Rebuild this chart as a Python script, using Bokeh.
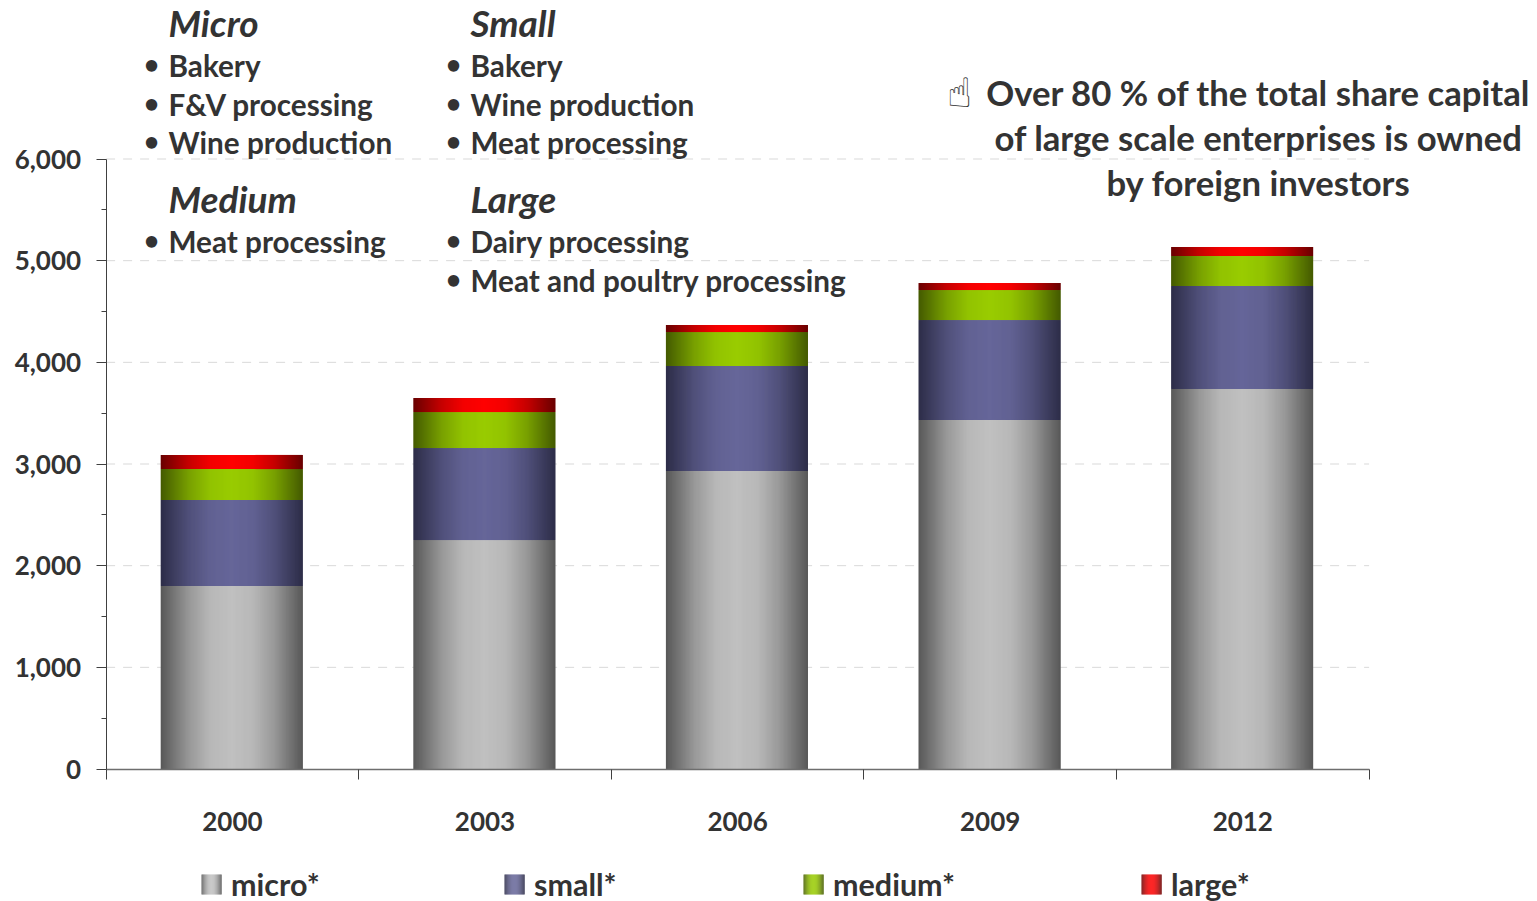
from bokeh.embed import file_html
from bokeh.models import (BoxAnnotation, ColumnDataSource, FixedTicker, Label,
                          NumeralTickFormatter, Range1d)
from bokeh.plotting import figure
from bokeh.resources import INLINE
import numpy as np

# Enterprise counts by size class
years = ["2000", "2003", "2006", "2009", "2012"]
micro = [1800, 2252, 2931, 3433, 3738]
small = [846, 905, 1033, 983, 1013]
medium = [304, 354, 334, 295, 295]
large = [139, 138, 69, 69, 88]

series_names = ["micro*", "small*", "medium*", "large*"]
centre_colors = [(192, 192, 192), (102, 102, 153), (153, 204, 0), (255, 0, 0)]
edge_colors = [(88, 88, 88), (45, 45, 72), (68, 90, 0), (105, 0, 0)]

y_ticks = [0, 1000, 2000, 3000, 4000, 5000, 6000]
y_minor = [500, 1500, 2500, 3500, 4500, 5500]

TEXT = "#333333"
FONT = "Lato"
W, H = 1537, 901

# Pixel geometry of the plotting area inside the page
AREA_LEFT, AREA_RIGHT, AREA_TOP, AREA_BOTTOM = 105.6, 1368.6, 158.5, 768.5
PX_X = (AREA_RIGHT - AREA_LEFT) / len(years)
PX_Y = (AREA_BOTTOM - AREA_TOP) / y_ticks[-1]
BAR_WIDTH = 142 / PX_X
BAR_SHIFT = -0.7 / PX_X
N_STRIPS = 142


def shade(centre, edge, t):
    """Colour across a bar: t runs 0..1 from left edge to right edge."""
    d = abs(t - 0.5) * 2
    a = np.interp(d, [0, 0.3, 0.6, 1.0], [1.0, 0.92, 0.62, 0.0])
    return "#%02x%02x%02x" % tuple(int(round(e + (c - e) * a)) for c, e in zip(centre, edge))


# The frame fills the page, so the ranges extend past the axes on every side
p = figure(width=W, height=H, output_backend="svg", toolbar_location=None,
           x_range=Range1d(-AREA_LEFT / PX_X, (W - AREA_LEFT) / PX_X),
           y_range=Range1d((AREA_BOTTOM - H) / PX_Y, AREA_BOTTOM / PX_Y),
           min_border=0)
p.outline_line_color = None
p.background_fill_color = "white"

# Dashed reference lines stop at the ends of the category axis
p.xgrid.visible = False
p.ygrid.visible = False
p.segment(x0=[0] * 6, x1=[len(years)] * 6, y0=y_ticks[1:], y1=y_ticks[1:],
          line_color="#d9d9d9", line_width=1, line_dash="9 8")

# Stacked columns, each drawn as narrow overlapping strips to give the cylinder shading
stack = [micro, small, medium, large]
lefts, rights, bottoms, tops, colors = [], [], [], [], []
base = np.zeros(len(years))
step = BAR_WIDTH / N_STRIPS
for values, centre, edge in zip(stack, centre_colors, edge_colors):
    top = base + np.array(values)
    for k in range(N_STRIPS):
        col = shade(centre, edge, (k + 0.5) / N_STRIPS)
        for i in range(len(years)):
            x0 = i + 0.5 - BAR_WIDTH / 2 + BAR_SHIFT
            lefts.append(x0 + k * step)
            rights.append(x0 + min(k + 2, N_STRIPS) * step)
            bottoms.append(base[i])
            tops.append(top[i])
            colors.append(col)
    base = top

src = ColumnDataSource(dict(left=lefts, right=rights, bottom=bottoms, top=tops, color=colors))
p.quad(left="left", right="right", bottom="bottom", top="top",
       fill_color="color", line_color=None, source=src)

# Axes sit at the data origin
xa = p.xaxis[0]
xa.fixed_location = 0
xa.bounds = (0, len(years))
xa.ticker = FixedTicker(ticks=[i + 0.5 for i in range(len(years))],
                        minor_ticks=list(range(len(years) + 1)))
xa.major_label_overrides = {i + 0.5: y for i, y in enumerate(years)}
xa.major_tick_line_color = None
xa.minor_tick_in = 0
xa.minor_tick_out = 10
xa.minor_tick_line_color = "#404040"
xa.axis_line_color = "#6e6e6e"
xa.axis_line_width = 1.5
xa.major_label_standoff = 33
xa.major_label_text_font = FONT
xa.major_label_text_font_style = "bold"
xa.major_label_text_font_size = "26px"
xa.major_label_text_color = TEXT

ya = p.yaxis[0]
ya.fixed_location = 0
ya.bounds = (0, y_ticks[-1])
ya.ticker = FixedTicker(ticks=y_ticks, minor_ticks=y_minor)
ya.formatter = NumeralTickFormatter(format="0,0")
ya.major_tick_in = 0
ya.major_tick_out = 10
ya.minor_tick_in = 0
ya.minor_tick_out = 5
ya.major_tick_line_color = "#404040"
ya.minor_tick_line_color = "#404040"
ya.axis_line_color = "#404040"
ya.major_label_standoff = 15
ya.major_label_text_font = FONT
ya.major_label_text_font_style = "bold"
ya.major_label_text_font_size = "26px"
ya.major_label_text_color = TEXT


def add_text(text, x, baseline, size=30, style="bold", align="left",
             font=FONT, color=TEXT):
    # The label box sits below the requested position, so lift it in step with the font size
    p.add_layout(Label(x=x, y=H - baseline + 0.44 * size, x_units="screen", y_units="screen",
                       text=text, text_font=font, text_font_size=f"{size}px",
                       text_font_style=style, text_color=color,
                       text_align=align, text_baseline="alphabetic"))


# Sector lists by enterprise size
blocks = [
    ("Micro", 168, 38, ["Bakery", "F&V processing", "Wine production"]),
    ("Small", 470, 38, ["Bakery", "Wine production", "Meat processing"]),
    ("Medium", 168, 214, ["Meat processing"]),
    ("Large", 470, 214, ["Dairy processing", "Meat and poultry processing"]),
]
for title, x, base_y, items in blocks:
    add_text(title, x, base_y, size=37, style="bold italic")
    for n, item in enumerate(items):
        line_y = base_y + 40 + n * 38.6
        add_text("\u2022", x - 17, line_y - 3, size=26, align="center")
        add_text(item, x, line_y, size=29.7)

# Side note
add_text("\u261d", 959, 111, size=41, style="bold", align="center",
         font="DejaVu Sans")
note = ["Over 80 % of the total share capital",
        "of large scale enterprises is owned",
        "by foreign investors"]
for n, line in enumerate(note):
    add_text(line, 1258, 107 + n * 45, size=34.7, align="center")

# Legend row with shaded swatches
legend_x = [201, 504, 803, 1141]
SWATCH = 20
for name, x0, centre, edge in zip(series_names, legend_x, centre_colors, edge_colors):
    for k in range(SWATCH):
        col = shade(centre, edge, (k + 0.5) / SWATCH)
        p.add_layout(BoxAnnotation(left=x0 + k, right=x0 + k + 1.2, top=H - 874, bottom=H - 894,
                                   left_units="screen", right_units="screen",
                                   top_units="screen", bottom_units="screen",
                                   fill_color=col, fill_alpha=1, line_color=None))
    add_text(name, x0 + 29.5, 897, size=30.5)

open("out.html", "w").write(file_html(p, INLINE))
